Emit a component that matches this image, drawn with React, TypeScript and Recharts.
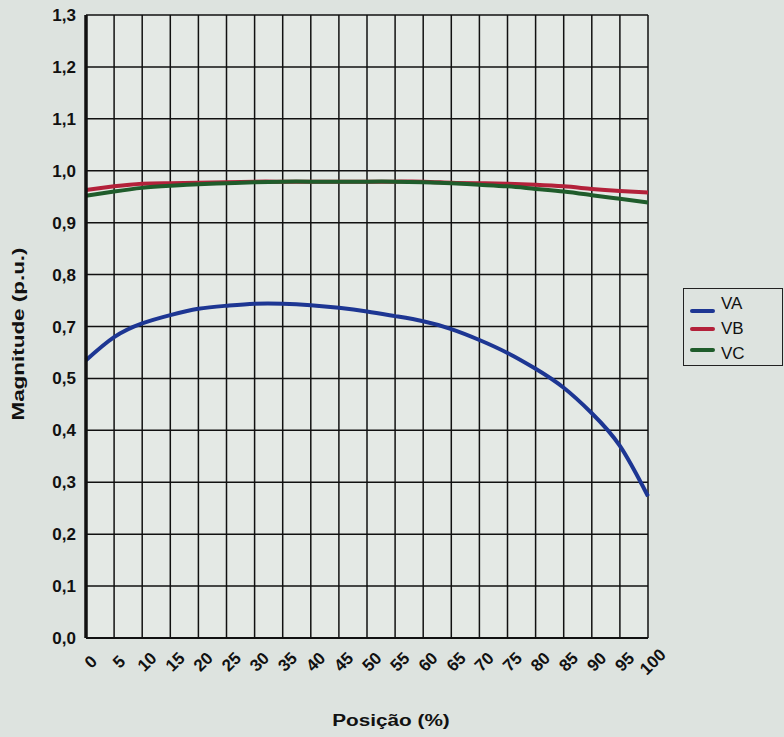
import { LineChart, Line, XAxis, YAxis, CartesianGrid, Legend, Label } from "recharts";

// posição ao longo do alimentador (%)
const positions = [0, 5, 10, 15, 20, 25, 30, 35, 40, 45, 50, 55, 60, 65, 70, 75, 80, 85, 90, 95, 100];

// magnitudes (p.u.)
const va = [0.57, 0.659, 0.706, 0.722, 0.734, 0.74, 0.744, 0.744, 0.741, 0.736, 0.729, 0.72, 0.71, 0.69, 0.648, 0.598, 0.537, 0.482, 0.433, 0.37, 0.273];
const vb = [0.963, 0.97, 0.975, 0.976, 0.977, 0.978, 0.979, 0.979, 0.979, 0.979, 0.979, 0.979, 0.979, 0.977, 0.976, 0.975, 0.973, 0.97, 0.965, 0.961, 0.958];
const vc = [0.952, 0.96, 0.967, 0.971, 0.974, 0.976, 0.978, 0.979, 0.979, 0.979, 0.979, 0.979, 0.978, 0.976, 0.973, 0.97, 0.965, 0.96, 0.953, 0.946, 0.939];

// rótulos impressos no eixo (o 0,6 não aparece na figura)
const yTickLabels = [0, 0.1, 0.2, 0.3, 0.4, 0.5, 0.7, 0.8, 0.9, 1.0, 1.1, 1.2, 1.3];
const xTicks = positions;

const series = [
  { key: "VA", color: "#1d3693" },
  { key: "VB", color: "#b3213a" },
  { key: "VC", color: "#1f5c2b" },
];

const FONT = "'Liberation Sans', Arial, sans-serif";

// valor em p.u. -> posição na escala impressa (linear por trechos)
function toAxis(v: number) {
  for (let i = 0; i < yTickLabels.length - 1; i++) {
    const a = yTickLabels[i];
    const b = yTickLabels[i + 1];
    if (v <= b || i === yTickLabels.length - 2) return i + (v - a) / (b - a);
  }
  return 0;
}

const data = positions.map((p, i) => ({
  pos: p,
  VA: toAxis(va[i]),
  VB: toAxis(vb[i]),
  VC: toAxis(vc[i]),
}));

const fmt = (v: number) => v.toFixed(1).replace(".", ",");

function XTick(props: any) {
  const { x, y, payload } = props;
  const cx = x + 5;
  const cy = y + 16;
  return (
    <text
      x={cx}
      y={cy}
      transform={`rotate(-45, ${cx}, ${cy})`}
      textAnchor="middle"
      dominantBaseline="central"
      fontFamily={FONT}
      fontWeight="bold"
      fontSize={17}
      fill="#111"
    >
      {payload.value}
    </text>
  );
}

function LegendBox() {
  return (
    <div
      style={{
        width: 100,
        height: 78,
        border: "1.5px solid #222",
        boxSizing: "border-box",
        fontFamily: FONT,
        fontSize: 17,
        color: "#111",
        position: "relative",
      }}
    >
      {series.map((s, i) => (
        <div key={s.key} style={{ position: "absolute", left: 6, top: 3 + i * 25, height: 24, display: "flex", alignItems: "center" }}>
          <span style={{ display: "inline-block", width: 25, height: 4, background: s.color, borderRadius: 2, marginTop: i === 0 ? 14 : i === 2 ? -8 : 0 }} />
          <span style={{ marginLeft: 6 }}>{s.key}</span>
        </div>
      ))}
    </div>
  );
}

export default function App() {
  return (
    <div style={{ position: "absolute", left: 0, top: 0, width: 784, height: 737, background: "#dde3df" }}>
      <LineChart width={784} height={737} data={data} margin={{ top: 15, right: 136, left: 0, bottom: 0 }}>
        <CartesianGrid stroke="#111" strokeWidth={1.5} fill="#e4e9e5" />
        <XAxis
          dataKey="pos"
          type="number"
          domain={[0, 100]}
          ticks={xTicks}
          interval={0}
          height={99}
          tickLine={false}
          axisLine={{ stroke: "#111", strokeWidth: 2 }}
          tick={<XTick />}
        >
          <Label
            content={() => (
              <text transform="translate(391, 720) scale(1.22, 1)" textAnchor="middle" dominantBaseline="central" fontFamily={FONT} fontWeight="bold" fontSize={17} fill="#111">
                Posição (%)
              </text>
            )}
          />
        </XAxis>
        <YAxis
          type="number"
          domain={[0, yTickLabels.length - 1]}
          ticks={yTickLabels.map((_, i) => i)}
          interval={0}
          width={86}
          tickLine={false}
          tickMargin={4}
          axisLine={{ stroke: "#111", strokeWidth: 3.5 }}
          tickFormatter={(i: number) => fmt(yTickLabels[i])}
          tick={{ fontFamily: FONT, fontWeight: "bold", fontSize: 17, fill: "#111" }}
        >
          <Label
            content={() => (
              <text transform="translate(18, 334) rotate(-90) scale(1.32, 1)" textAnchor="middle" dominantBaseline="central" fontFamily={FONT} fontWeight="bold" fontSize={17} fill="#111">
                Magnitude (p.u.)
              </text>
            )}
          />
        </YAxis>
        <Legend
          layout="horizontal"
          align="center"
          verticalAlign="middle"
          content={<LegendBox />}
          wrapperStyle={{ left: 683, top: 288, width: 100, height: 78 }}
        />
        {series.map((s) => (
          <Line
            key={s.key}
            type="natural"
            dataKey={s.key}
            stroke={s.color}
            strokeWidth={4}
            dot={false}
            isAnimationActive={false}
          />
        ))}
      </LineChart>
    </div>
  );
}
